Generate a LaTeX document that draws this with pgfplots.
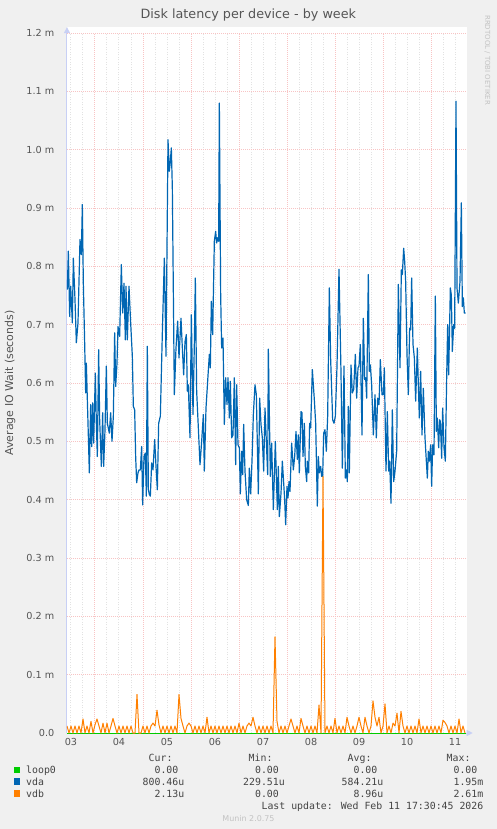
\documentclass[border=0pt]{standalone}
\usepackage{fontspec}
\setmainfont{DejaVu Sans}
\newfontfamily\monofont{DejaVu Sans Mono}
\usepackage{pgfplots}
\pgfplotsset{compat=1.18}
\usetikzlibrary{arrows.meta}

\definecolor{bg}{RGB}{240,240,240}
\definecolor{vda}{RGB}{0,102,179}
\definecolor{vdb}{RGB}{255,128,0}
\definecolor{loopc}{RGB}{0,204,0}
\definecolor{gridred}{RGB}{248,196,196}
\definecolor{gridgray}{RGB}{226,226,226}
\definecolor{axisc}{RGB}{200,208,245}
\definecolor{txt}{RGB}{85,85,85}
\definecolor{txtd}{RGB}{68,68,68}
\definecolor{faint}{RGB}{195,195,195}

\begin{document}
\begin{tikzpicture}[x=1bp,y=1bp]
\fill[bg] (-67,-96) rectangle (430,733);
\useasboundingbox (-67,-96) rectangle (430,733);
\begin{axis}[
  at={(0,0)}, anchor=south west,
  scale only axis, width=399.7bp, height=705.8bp,
  xmin=10, xmax=209.85, ymin=0, ymax=1.21,
  axis background/.style={fill=white},
  axis x line=bottom, axis y line=left,
  axis line style={axisc, line width=1bp},
  x axis line style={-{Triangle[length=6bp,width=6bp]}, shorten >=-6bp},
  y axis line style={-{Triangle[length=6bp,width=6bp]}},
  xtick={12,36,60,84,108,132,156,180,204},
  xticklabels={03,04,05,06,07,08,09,10,11},
  ytick={0,0.1,0.2,0.3,0.4,0.5,0.6,0.7,0.8,0.9,1.0,1.1,1.2},
  yticklabels={0.0,0.1 m,0.2 m,0.3 m,0.4 m,0.5 m,0.6 m,0.7 m,0.8 m,0.9 m,1.0 m,1.1 m,1.2 m},
  major tick length=0pt, tick style={draw=none},
  /pgf/number format/assume math mode=true,
  ticklabel style={font=\fontsize{9.7}{10}\selectfont, text=txt},
  xticklabel style={anchor=north, inner sep=0pt, yshift=-5.5bp},
  yticklabel style={anchor=east, inner sep=0pt, xshift=-12.5bp},
  title={Disk latency per device - by week},
  every axis title/.style={at={(axis description cs:0.4536,1)}, anchor=base, yshift=8.9bp, font=\fontsize{12.8}{14}\selectfont, text=txt},
  ylabel={Average IO Wait (seconds)},
  every axis y label/.style={at={(axis description cs:-0.1426,0.4959)}, rotate=90, anchor=center, font=\fontsize{11}{12}\selectfont, text=txt},
  every axis plot/.append style={line join=round},
]
% grid: gray every 6 h, red at midnight and every 0.1 m
\pgfplotsinvokeforeach{12,18,30,36,42,54,60,66,78,84,90,102,108,114,126,132,138,150,156,162,174,180,186,198,204}{
  \draw[gridgray, line width=1bp, dash pattern=on 1bp off 1.5bp] (axis cs:#1,0) -- (axis cs:#1,1.2);
}
\pgfplotsinvokeforeach{24,48,72,96,120,144,168,192}{
  \draw[gridred, line width=1bp, dash pattern=on 1bp off 1bp] (axis cs:#1,0) -- (axis cs:#1,1.2);
}
\pgfplotsinvokeforeach{0.1,0.2,0.3,0.4,0.5,0.6,0.7,0.8,0.9,1.0,1.1,1.2}{
  \draw[gridred, line width=1bp, dash pattern=on 1bp off 1bp] (axis cs:10,#1) -- (axis cs:209.85,#1);
}

\addplot[loopc, line width=1bp] coordinates {(10,0) (209.33,0)};

\addplot[vda, line width=1.2bp] table {
x y
10.17 0.76
10.67 0.826
11.33 0.714
11.83 0.766
12.67 0.703
13.17 0.814
14.0 0.743
14.67 0.669
15.5 0.703
16.5 0.846
17.17 0.82
17.67 0.906
18.17 0.771
18.83 0.669
19.33 0.583
19.67 0.634
20.5 0.531
21.17 0.446
21.83 0.563
22.33 0.491
22.83 0.566
23.33 0.497
24.17 0.617
24.67 0.531
25.17 0.474
25.83 0.657
26.33 0.537
27.17 0.457
27.83 0.549
28.33 0.457
29.0 0.52
29.67 0.629
30.17 0.531
31.17 0.514
31.83 0.549
32.5 0.5
33.17 0.543
33.83 0.686
34.33 0.594
35.0 0.634
35.5 0.697
36.33 0.68
37.17 0.803
37.83 0.72
38.5 0.771
39.17 0.674
39.5 0.766
40.17 0.674
41.0 0.766
41.83 0.703
42.67 0.646
43.17 0.56
43.83 0.554
44.33 0.474
44.83 0.429
45.5 0.446
46.0 0.451
46.67 0.451
47.33 0.491
47.83 0.391
48.5 0.474
49.17 0.48
49.67 0.406
50.17 0.663
50.67 0.417
51.17 0.409
51.67 0.406
52.33 0.463
53.0 0.451
53.83 0.503
54.5 0.457
55.17 0.417
55.83 0.531
56.67 0.543
57.67 0.686
58.67 0.814
59.5 0.646
60.5 1.017
61.17 0.963
61.67 0.98
62.17 1.003
62.67 0.934
63.67 0.58
64.5 0.66
65.33 0.706
66.0 0.643
67.0 0.711
67.67 0.66
68.33 0.614
69.0 0.671
69.67 0.683
70.17 0.586
70.67 0.597
71.5 0.506
72.17 0.717
73.0 0.546
73.67 0.666
74.17 0.78
74.83 0.586
75.67 0.523
76.5 0.46
77.33 0.5
78.17 0.546
78.67 0.449
79.5 0.557
80.33 0.603
81.17 0.649
81.67 0.626
82.17 0.74
82.83 0.683
83.67 0.843
84.33 0.86
84.83 0.84
85.33 0.849
85.83 0.843
86.17 1.08
86.83 0.751
87.33 0.66
88.0 0.677
88.67 0.529
89.33 0.609
90.0 0.563
90.5 0.609
91.17 0.54
91.67 0.603
92.33 0.506
93.0 0.511
93.67 0.609
94.33 0.46
94.83 0.597
95.5 0.494
96.17 0.489
96.67 0.41
97.33 0.483
97.83 0.443
98.33 0.529
99.0 0.449
99.83 0.40
100.67 0.39
101.17 0.454
101.83 0.41
102.5 0.466
103.17 0.546
104.0 0.597
104.67 0.58
105.67 0.41
106.33 0.574
107.0 0.529
107.67 0.506
108.33 0.449
109.0 0.557
109.67 0.5
110.33 0.443
110.67 0.658
111.67 0.44
112.33 0.497
113.17 0.383
114.17 0.5
115.17 0.383
115.67 0.457
116.17 0.371
117.0 0.411
117.67 0.466
118.33 0.429
118.83 0.4
119.33 0.357
120.0 0.423
120.5 0.403
121.0 0.431
121.5 0.414
122.33 0.497
123.17 0.451
123.83 0.474
124.5 0.517
125.17 0.469
125.67 0.511
126.17 0.446
127.0 0.551
127.5 0.549
128.0 0.474
128.67 0.531
129.17 0.457
129.83 0.431
130.17 0.466
130.83 0.446
131.33 0.531
131.83 0.523
132.67 0.623
133.67 0.571
134.33 0.531
135.17 0.389
135.67 0.474
136.17 0.446
136.83 0.457
137.33 0.44
137.83 0.44
138.33 0.514
139.0 0.52
139.67 0.483
140.33 0.543
141.17 0.763
141.83 0.64
142.83 0.537
143.5 0.531
144.17 0.543
145.0 0.629
146.0 0.795
147.0 0.617
147.67 0.454
148.5 0.629
149.17 0.437
149.67 0.451
150.17 0.431
150.67 0.56
151.17 0.446
152.0 0.631
152.67 0.583
153.33 0.589
154.17 0.649
154.83 0.574
155.5 0.626
156.0 0.629
156.67 0.666
157.5 0.511
158.17 0.711
158.83 0.606
159.33 0.609
159.83 0.574
160.67 0.786
161.17 0.62
161.67 0.631
162.33 0.597
163.17 0.511
164.0 0.58
164.67 0.506
165.33 0.574
166.0 0.563
166.67 0.64
167.5 0.58
168.17 0.58
168.67 0.626
169.5 0.449
170.17 0.551
170.83 0.449
171.33 0.466
172.0 0.394
172.67 0.554
173.33 0.431
174.0 0.449
174.83 0.483
175.67 0.769
176.5 0.626
177.17 0.794
177.67 0.786
178.33 0.831
178.83 0.809
179.33 0.774
180.0 0.649
180.67 0.58
181.33 0.694
181.83 0.691
182.33 0.78
183.0 0.666
183.67 0.643
184.33 0.569
185.17 0.66
185.67 0.597
186.17 0.54
186.83 0.62
187.5 0.511
188.17 0.591
189.0 0.506
189.67 0.466
190.17 0.437
190.67 0.483
191.17 0.466
191.83 0.494
192.33 0.423
192.83 0.494
193.5 0.477
194.17 0.749
194.67 0.517
195.17 0.54
195.83 0.489
196.33 0.537
196.67 0.534
197.33 0.471
197.83 0.557
198.5 0.489
199.17 0.466
199.83 0.609
200.33 0.7
200.83 0.614
201.67 0.763
202.17 0.751
202.67 0.654
203.33 0.7
203.83 0.694
204.5 1.083
205.0 0.763
205.67 0.737
206.5 0.774
207.17 0.909
207.67 0.731
208.17 0.746
208.67 0.72
209.33 0.72
};

\addplot[vdb, line width=1bp] table {
x y
10 0.012
11 0
12 0.012
13 0
14 0.012
15 0
16 0.012
17 0
18 0.024
19 0
20 0.012
21 0
22 0.02
23 0
24 0.014
25 0.024
26 0.012
27 0
28 0.017
29 0
30 0.017
31 0
32 0.012
33 0.025
34 0.012
35 0
36 0.012
37 0
38 0.012
39 0
40 0.012
41 0
42 0.012
43 0
44 0
45 0.066
46 0
47 0
48 0.012
49 0
50 0.012
51 0
52 0.012
53 0.017
54 0.012
55 0.039
56 0.014
57 0
58 0.012
59 0
60 0.012
61 0
62 0.012
63 0
64 0.012
65 0
66 0.066
67 0.025
68 0.012
69 0
70 0.012
71 0.017
72 0.012
73 0
74 0.012
75 0
76 0.012
77 0
78 0.012
79 0
80 0.027
81 0
82 0.012
83 0
84 0.012
85 0
86 0.012
87 0
88 0.012
89 0
90 0.012
91 0
92 0.012
93 0
94 0.012
95 0
96 0.017
97 0
98 0.012
99 0
100 0.012
101 0.017
102 0.012
103 0.027
104 0.012
105 0
106 0.012
107 0
108 0.012
109 0
110 0.012
111 0
112 0.012
113 0
114 0.165
115 0.02
116 0
117 0.012
118 0
119 0.012
120 0
121 0.012
122 0.024
123 0.012
124 0
125 0.012
126 0
127 0.025
128 0.012
129 0
130 0.012
131 0
132 0.012
133 0
134 0.012
135 0
136 0.048
137 0
138 0.44
139 0
140 0.012
141 0
142 0.012
143 0
144 0.025
145 0
146 0.012
147 0
148 0.012
149 0
150 0.027
151 0.012
152 0
153 0.012
154 0
155 0.012
156 0.027
157 0.012
158 0
159 0.027
160 0.012
161 0
162 0.012
163 0.055
164 0.027
165 0.012
166 0.027
167 0
168 0.012
169 0.05
170 0
171 0.012
172 0
173 0.017
174 0.012
175 0.034
176 0
177 0.037
178 0.012
179 0
180 0.012
181 0
182 0.012
183 0
184 0.012
185 0
186 0.024
187 0
188 0.012
189 0
190 0.012
191 0
192 0.012
193 0
194 0.012
195 0
196 0.012
197 0
198 0.022
199 0.018
200 0.012
201 0
202 0.012
203 0
204 0.012
205 0
206 0.024
207 0
208 0.012
209 0
};
\end{axis}

% watermark
\node[rotate=-90, anchor=west, inner sep=0pt, font=\fontsize{7}{8}\selectfont, text=faint] at (420.5,718) {RRDTOOL / TOBI OETIKER};

% legend
\tikzset{lg/.style={inner sep=0pt, font=\monofont\fontsize{9.9}{11}\selectfont, text=txtd}}
\node[lg, anchor=base west] at (81.5,-28) {Cur:};
\node[lg, anchor=base west] at (181.5,-28) {Min:};
\node[lg, anchor=base west] at (280.5,-28) {Avg:};
\node[lg, anchor=base west] at (379.5,-28) {Max:};

\fill[loopc] (-53.25,-40.25) rectangle ++(6.5,6.5);
\fill[vda] (-53.25,-51.95) rectangle ++(6.5,6.5);
\fill[vdb] (-53.25,-63.55) rectangle ++(6.5,6.5);

\node[lg, anchor=base west] at (-41,-40.5) {loop0};
\node[lg, anchor=base west] at (-41,-52.3) {vda};
\node[lg, anchor=base west] at (-41,-64) {vdb};

\node[lg, anchor=base east] at (117.5,-40.5) {0.00\phantom{u}};
\node[lg, anchor=base east] at (218,-40.5) {0.00\phantom{u}};
\node[lg, anchor=base east] at (316.5,-40.5) {0.00\phantom{u}};
\node[lg, anchor=base east] at (416.5,-40.5) {0.00\phantom{u}};

\node[lg, anchor=base east] at (117.5,-52.3) {800.46u};
\node[lg, anchor=base east] at (218,-52.3) {229.51u};
\node[lg, anchor=base east] at (316.5,-52.3) {584.21u};
\node[lg, anchor=base east] at (416.5,-52.3) {1.95m};

\node[lg, anchor=base east] at (117.5,-64) {2.13u};
\node[lg, anchor=base east] at (218,-64) {0.00\phantom{u}};
\node[lg, anchor=base east] at (316.5,-64) {8.96u};
\node[lg, anchor=base east] at (416.5,-64) {2.61m};

\node[lg, anchor=base east] at (416.5,-76.3) {Last update: Wed Feb 11 17:30:45 2026};
\node[anchor=base, inner sep=0pt, font=\fontsize{8}{9}\selectfont, text=faint] at (181.5,-88.2) {Munin 2.0.75};
\end{tikzpicture}
\end{document}
